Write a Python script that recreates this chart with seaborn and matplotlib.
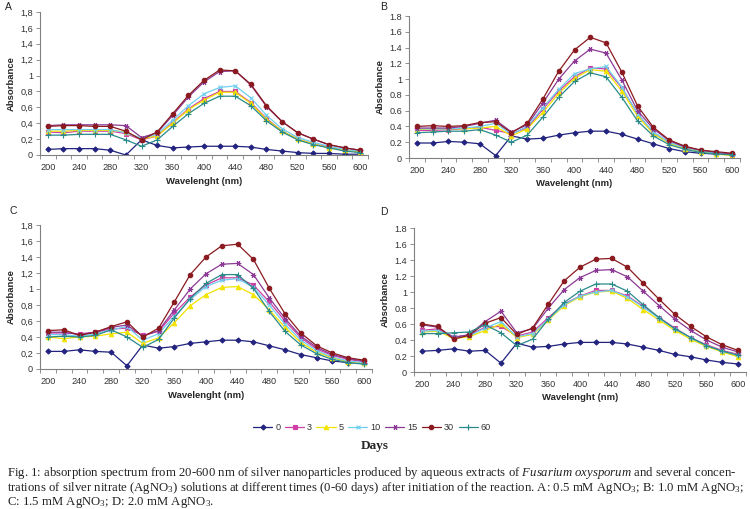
import numpy as np
import pandas as pd
import matplotlib
matplotlib.use("Agg")
import matplotlib.pyplot as plt
import seaborn as sns

# ---------------- data ----------------
wavelengths = list(range(200, 601, 20))
days = ["0", "3", "5", "10", "15", "30", "60"]

panel_A = {
    "0":  [0.07, 0.08, 0.08, 0.08, 0.06, 0.00, 0.19, 0.12, 0.09, 0.10, 0.11, 0.11, 0.11, 0.10, 0.07, 0.05, 0.03, 0.02, 0.02, 0.01, 0.01],
    "3":  [0.29, 0.28, 0.30, 0.30, 0.30, 0.27, 0.19, 0.24, 0.41, 0.58, 0.71, 0.80, 0.80, 0.66, 0.46, 0.30, 0.20, 0.14, 0.10, 0.06, 0.04],
    "5":  [0.30, 0.30, 0.31, 0.31, 0.31, 0.29, 0.20, 0.24, 0.40, 0.57, 0.69, 0.79, 0.79, 0.65, 0.45, 0.30, 0.20, 0.14, 0.09, 0.06, 0.04],
    "10": [0.32, 0.32, 0.32, 0.32, 0.32, 0.28, 0.21, 0.26, 0.44, 0.62, 0.77, 0.85, 0.87, 0.72, 0.50, 0.33, 0.22, 0.16, 0.11, 0.07, 0.05],
    "15": [0.37, 0.38, 0.38, 0.38, 0.38, 0.37, 0.22, 0.28, 0.50, 0.73, 0.92, 1.05, 1.06, 0.88, 0.61, 0.42, 0.28, 0.20, 0.13, 0.09, 0.06],
    "30": [0.36, 0.37, 0.37, 0.36, 0.36, 0.30, 0.19, 0.29, 0.52, 0.75, 0.94, 1.07, 1.06, 0.89, 0.62, 0.42, 0.28, 0.20, 0.13, 0.09, 0.06],
    "60": [0.25, 0.25, 0.26, 0.26, 0.26, 0.19, 0.11, 0.19, 0.36, 0.52, 0.65, 0.74, 0.74, 0.62, 0.43, 0.29, 0.19, 0.13, 0.09, 0.05, 0.03],
}
panel_B = {
    "0":  [0.19, 0.19, 0.21, 0.20, 0.18, 0.03, 0.28, 0.24, 0.25, 0.29, 0.32, 0.34, 0.34, 0.30, 0.24, 0.18, 0.12, 0.08, 0.06, 0.05, 0.05],
    "3":  [0.35, 0.35, 0.36, 0.37, 0.39, 0.35, 0.31, 0.38, 0.62, 0.85, 1.03, 1.14, 1.13, 0.89, 0.56, 0.32, 0.20, 0.13, 0.09, 0.06, 0.04],
    "5":  [0.36, 0.37, 0.37, 0.37, 0.38, 0.40, 0.28, 0.37, 0.58, 0.82, 1.01, 1.12, 1.10, 0.85, 0.53, 0.31, 0.19, 0.12, 0.08, 0.05, 0.03],
    "10": [0.37, 0.37, 0.37, 0.38, 0.40, 0.44, 0.30, 0.40, 0.64, 0.87, 1.07, 1.13, 1.16, 0.90, 0.56, 0.33, 0.20, 0.13, 0.09, 0.06, 0.05],
    "15": [0.38, 0.38, 0.38, 0.40, 0.44, 0.48, 0.33, 0.42, 0.70, 1.00, 1.23, 1.38, 1.33, 0.99, 0.60, 0.37, 0.22, 0.14, 0.10, 0.07, 0.05],
    "30": [0.40, 0.41, 0.40, 0.41, 0.45, 0.46, 0.32, 0.44, 0.75, 1.10, 1.37, 1.53, 1.46, 1.09, 0.66, 0.39, 0.23, 0.15, 0.10, 0.08, 0.06],
    "60": [0.32, 0.33, 0.34, 0.34, 0.36, 0.29, 0.20, 0.29, 0.52, 0.77, 0.97, 1.08, 1.03, 0.77, 0.47, 0.28, 0.17, 0.11, 0.07, 0.05, 0.04],
}
panel_C = {
    "0":  [0.22, 0.22, 0.24, 0.22, 0.21, 0.04, 0.30, 0.26, 0.28, 0.32, 0.34, 0.36, 0.36, 0.34, 0.29, 0.24, 0.18, 0.14, 0.10, 0.08, 0.07],
    "3":  [0.45, 0.45, 0.44, 0.46, 0.50, 0.51, 0.42, 0.47, 0.70, 0.90, 1.05, 1.14, 1.14, 1.05, 0.84, 0.60, 0.39, 0.25, 0.17, 0.12, 0.09],
    "5":  [0.40, 0.38, 0.40, 0.41, 0.44, 0.46, 0.32, 0.39, 0.58, 0.79, 0.93, 1.02, 1.03, 0.93, 0.74, 0.52, 0.33, 0.21, 0.14, 0.09, 0.07],
    "10": [0.43, 0.43, 0.41, 0.44, 0.49, 0.53, 0.36, 0.44, 0.66, 0.87, 1.03, 1.11, 1.13, 1.02, 0.80, 0.56, 0.36, 0.23, 0.15, 0.10, 0.08],
    "15": [0.46, 0.46, 0.43, 0.46, 0.52, 0.55, 0.41, 0.48, 0.74, 1.00, 1.19, 1.31, 1.32, 1.18, 0.89, 0.63, 0.41, 0.27, 0.18, 0.13, 0.10],
    "30": [0.48, 0.49, 0.42, 0.46, 0.53, 0.59, 0.40, 0.51, 0.84, 1.18, 1.40, 1.54, 1.56, 1.37, 1.01, 0.69, 0.45, 0.29, 0.20, 0.14, 0.11],
    "60": [0.40, 0.41, 0.40, 0.42, 0.49, 0.40, 0.27, 0.37, 0.64, 0.88, 1.07, 1.18, 1.18, 1.01, 0.72, 0.47, 0.30, 0.19, 0.12, 0.08, 0.06],
}
panel_D = {
    "0":  [0.26, 0.27, 0.29, 0.26, 0.27, 0.11, 0.36, 0.31, 0.32, 0.35, 0.37, 0.37, 0.37, 0.35, 0.31, 0.27, 0.22, 0.19, 0.15, 0.12, 0.10],
    "3":  [0.52, 0.54, 0.44, 0.46, 0.56, 0.57, 0.45, 0.50, 0.68, 0.85, 0.95, 1.02, 1.02, 0.95, 0.82, 0.68, 0.55, 0.43, 0.34, 0.27, 0.22],
    "5":  [0.50, 0.51, 0.42, 0.44, 0.52, 0.60, 0.43, 0.47, 0.65, 0.83, 0.94, 1.00, 1.01, 0.92, 0.78, 0.65, 0.52, 0.41, 0.32, 0.25, 0.19],
    "10": [0.51, 0.52, 0.44, 0.45, 0.55, 0.63, 0.44, 0.48, 0.66, 0.84, 0.95, 1.00, 1.02, 0.94, 0.81, 0.67, 0.54, 0.43, 0.33, 0.26, 0.21],
    "15": [0.59, 0.56, 0.43, 0.47, 0.63, 0.76, 0.49, 0.54, 0.80, 1.03, 1.18, 1.27, 1.28, 1.19, 1.01, 0.83, 0.66, 0.52, 0.40, 0.31, 0.25],
    "30": [0.60, 0.57, 0.41, 0.46, 0.61, 0.68, 0.47, 0.55, 0.85, 1.14, 1.31, 1.41, 1.42, 1.31, 1.11, 0.91, 0.72, 0.57, 0.44, 0.34, 0.27],
    "60": [0.48, 0.48, 0.49, 0.50, 0.59, 0.49, 0.33, 0.41, 0.66, 0.87, 1.01, 1.10, 1.10, 1.01, 0.84, 0.68, 0.54, 0.43, 0.33, 0.26, 0.21],
}

x_tick_labels = ["200", "240", "280", "320", "360", "400", "440", "480", "520", "560", "600"]
y_ticks = [0, 0.2, 0.4, 0.6, 0.8, 1.0, 1.2, 1.4, 1.6, 1.8]
y_labels_comma = ["0", "0,2", "0,4", "0,6", "0,8", "1", "1,2", "1,4", "1,6", "1,8"]
y_labels_dot = ["0", "0.2", "0.4", "0.6", "0.8", "1", "1.2", "1.4", "1.6", "1.8"]

# ---------------- style ----------------
sns.set_theme(style="white")
plt.rcParams["font.family"] = ["Liberation Sans", "DejaVu Sans"]
plt.rcParams["mathtext.fontset"] = "custom"
plt.rcParams["mathtext.rm"] = "Liberation Serif"
plt.rcParams["mathtext.it"] = "Liberation Serif:italic"

palette = {"0": "#22237f", "3": "#cf3fa6", "5": "#f2e300", "10": "#6fcfee",
           "15": "#8c3a95", "30": "#8a1a1f", "60": "#2b8a8a"}
markers = {"0": "D", "3": "s", "5": "^", "10": "x", "15": (6, 2, 90),
           "30": "o", "60": "+"}
msizes = {"0": 2.6, "3": 2.8, "5": 3.2, "10": 3.4, "15": 3.8, "30": 3.2, "60": 4.2}

fig = plt.figure(figsize=(7.5, 5.09), dpi=100)

W, H = 750.0, 509.0
panels = [
    ("A", panel_A, (40, 368, 12, 155), y_labels_comma, (5, 7)),
    ("B", panel_B, (409, 740, 16, 158), y_labels_dot, (380, 7)),
    ("C", panel_C, (40, 372, 225, 369), y_labels_comma, (9, 211)),
    ("D", panel_D, (414, 746, 228, 372), y_labels_dot, (380, 212)),
]

legend_handles = None
for name, data, (x0, x1, y0, y1), ylabs, (lx, ly) in panels:
    ax = fig.add_axes([x0 / W, 1 - y1 / H, (x1 - x0) / W, (y1 - y0) / H])
    for d in days:
        df = pd.DataFrame({"Wavelength": wavelengths, "Absorbance": data[d]})
        c = palette[d]
        sns.lineplot(data=df, x="Wavelength", y="Absorbance", color=c,
                     marker=markers[d], markersize=msizes[d], markeredgecolor=c,
                     markerfacecolor=c, markeredgewidth=0.8, linewidth=0.9,
                     label=d, ax=ax, legend=False)
    if name == "A":
        legend_handles = (list(ax.lines), list(days))

    ax.set_xlim(190, 610)
    ax.set_ylim(0, 1.8)
    ax.set_xticks(list(range(200, 601, 40)))
    ax.set_xticklabels(x_tick_labels)
    ax.set_xticks(list(range(190, 611, 20)), minor=True)
    ax.set_yticks(y_ticks)
    ax.set_yticklabels(ylabs)
    for s in ["top", "right"]:
        ax.spines[s].set_visible(False)
    for s in ["left", "bottom"]:
        ax.spines[s].set_color("#808080")
        ax.spines[s].set_linewidth(0.8)
    ax.tick_params(axis="both", which="major", labelsize=6.6, length=3, width=0.6,
                   color="#808080", pad=2, bottom=True, left=True, labelcolor="#333333")
    ax.tick_params(axis="x", which="major", length=0, pad=5.5)
    ax.tick_params(axis="x", which="minor", length=3, width=0.6, color="#808080", bottom=True)
    ax.set_xlabel("Wavelenght (nm)", fontsize=6.8, fontweight="bold", labelpad=3.5)
    ax.set_ylabel("Absorbance", fontsize=6.8, fontweight="bold", labelpad=3)
    fig.text(lx / W, 1 - ly / H, name, fontsize=7.5, ha="left", va="center", color="#222222")

h, l = legend_handles
fig.legend(h, l, loc="center", bbox_to_anchor=(372 / W, 1 - 428 / H), ncol=7,
           frameon=False, fontsize=6.6, handlelength=2.1, handletextpad=0.3,
           columnspacing=0.5, labelcolor="#333333")

fig.text(375 / W, 1 - 446 / H, "Days", fontsize=9.5, fontweight="bold",
         family=["Liberation Serif", "DejaVu Serif"], ha="center", va="center")

serif = ["Liberation Serif", "DejaVu Serif"]
cap1 = (r"Fig. 1: absorption spectrum from 20-600 nm of silver nanoparticles produced by aqueous extracts of "
        r"$\mathit{Fusarium\ oxysporum}$ and several concen-")
cap2 = (r"trations of silver nitrate (AgNO$_3$) solutions at different times (0-60 days) after initiation of the "
        r"reaction. A: 0.5 mM AgNO$_3$; B: 1.0 mM AgNO$_3$;")
cap3 = r"C: 1.5 mM AgNO$_3$; D: 2.0 mM AgNO$_3$."
for txt, yy in [(cap1, 476), (cap2, 491), (cap3, 505)]:
    fig.text(7 / W, 1 - yy / H, txt, fontsize=9.2, family=serif, ha="left", va="baseline",
             color="#222222")

fig.savefig("out.png", dpi=100)
